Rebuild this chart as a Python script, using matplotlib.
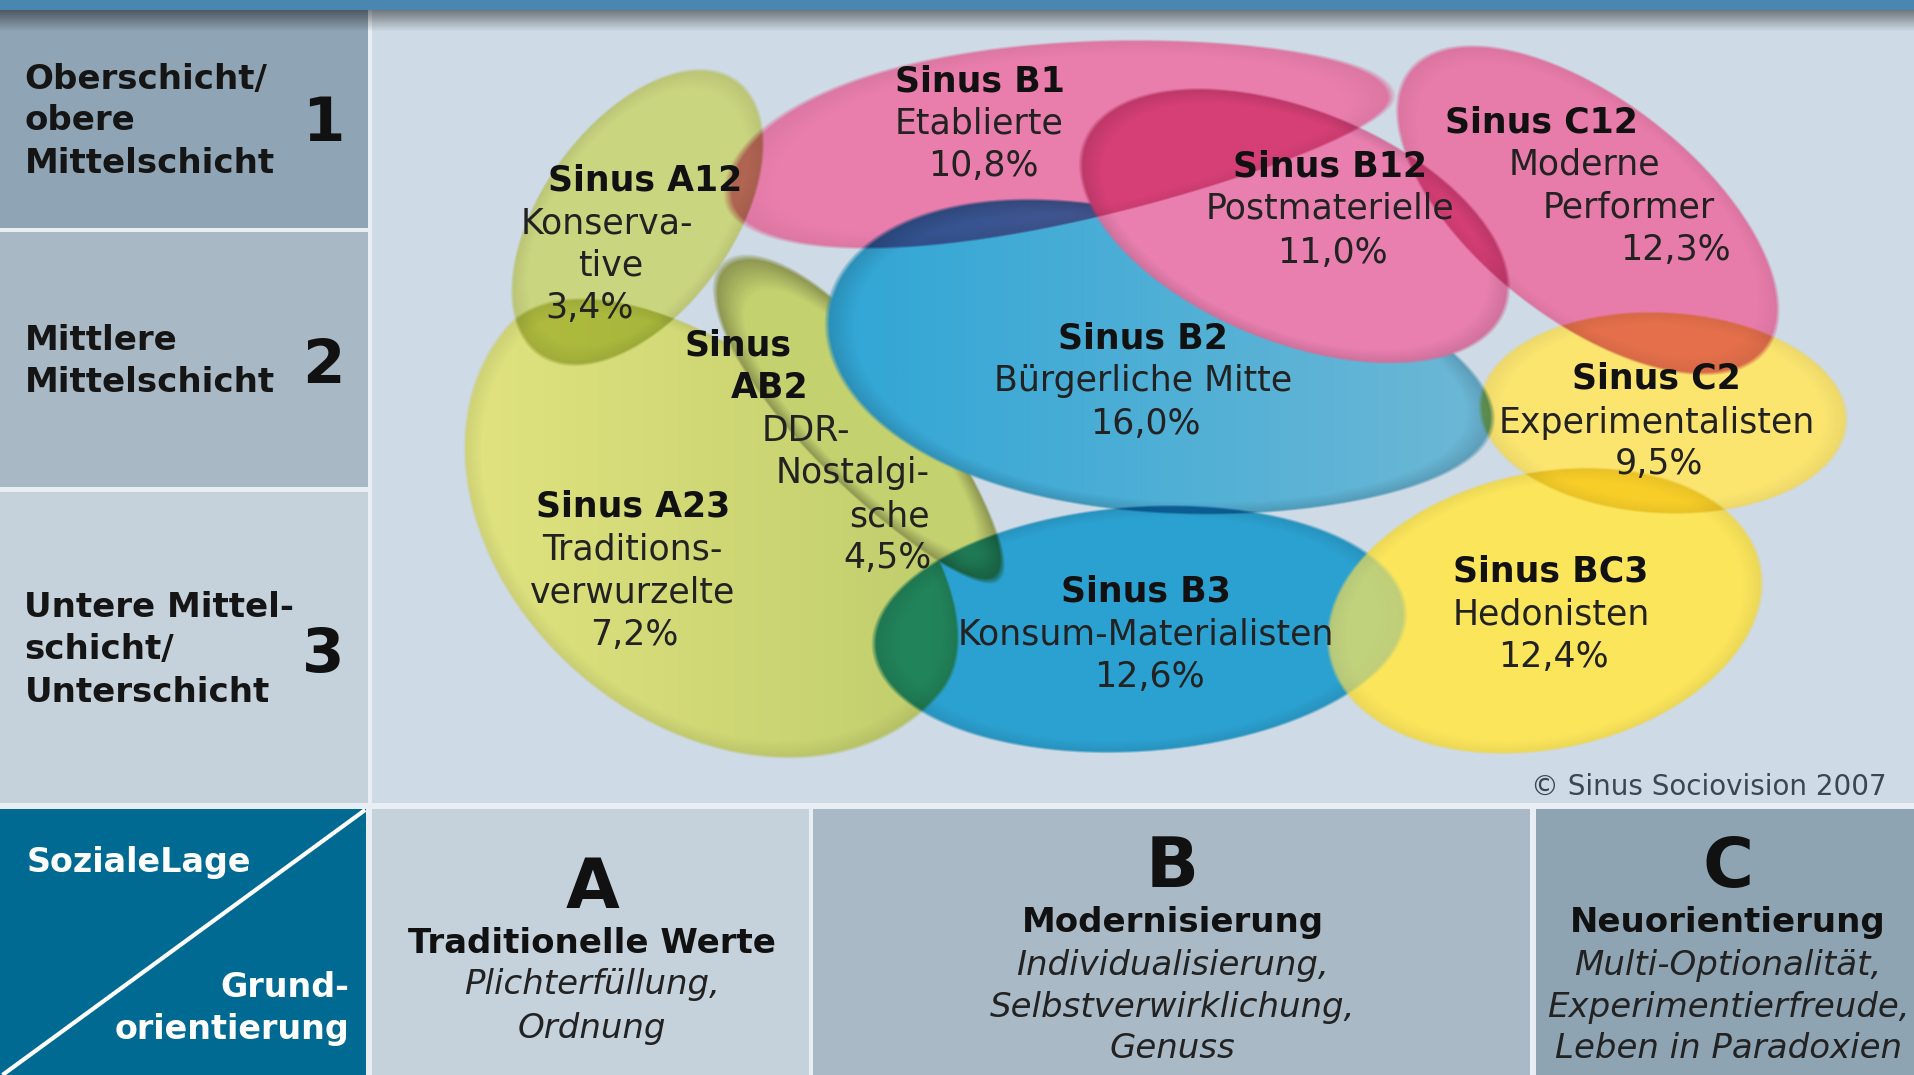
import numpy as np
import matplotlib.pyplot as plt
from matplotlib import font_manager
from matplotlib.patches import Rectangle

# layout grid of the reference (1568 x 880), mapped onto a 1915 x 1075 figure
W, H = 1568, 880

# --- data ---------------------------------------------------------------
milieu_codes = ["B1", "A12", "B12", "C12", "B2", "C2", "AB2", "A23", "B3", "BC3"]
milieu_names = ["Etablierte", "Konserva-\ntive", "Postmaterielle", "Moderne\nPerformer",
                "Bürgerliche Mitte", "Experimentalisten", "DDR-\nNostalgi-\nsche",
                "Traditions-\nverwurzelte", "Konsum-Materialisten", "Hedonisten"]
milieu_shares = [10.8, 3.4, 11.0, 12.3, 16.0, 9.5, 4.5, 7.2, 12.6, 12.4]

social_levels = ["Oberschicht/\nobere\nMittelschicht", "Mittlere\nMittelschicht",
                 "Untere Mittel-\nschicht/\nUnterschicht"]
level_numbers = ["1", "2", "3"]

value_letters = ["A", "B", "C"]
value_titles = ["Traditionelle Werte", "Modernisierung", "Neuorientierung"]
value_desc = [["Plichterfüllung,", "Ordnung"],
              ["Individualisierung,", "Selbstverwirklichung,", "Genuss"],
              ["Multi-Optionalität,", "Experimentierfreude,", "Leben in Paradoxien"]]

corner_top = "SozialeLage"
corner_bottom = ["Grund-", "orientierung"]
credit = "© Sinus Sociovision 2007"

# --- layout -------------------------------------------------------------
# blob: cx, cy, a, b (lower side), b (upper side), angle, egg, layer, mode, opacity, rim
blobs = {
    "A23": (592, 418, 232, 178, 115, 40, 0.0, 0, "mul", 1.0, 0.08),
    "A12": (522, 178, 138, 78, 78, -54, 0.0, 1, "mul", 1.0, 0.08),
    "AB2": (705, 345, 170, 48, 52, 49, -0.2, 2, "normal", 1.0, 0.3),
    "B2":  (950, 300, 276, 120, 120, 10, -0.2, 3, "normal", 1.0, 0.15),
    "B12": (1060, 185, 185, 95, 95, 22, 0.0, 4, "normal", 1.0, 0.12),
    "B3":  (933, 515, 218, 100, 100, -4, 0.0, 5, "mul", 1.0, 0.1),
    "BC3": (1265, 500, 180, 113, 113, -12, 0.0, 6, "normal", 0.72, 0.06),
    "B1":  (868, 121, 275, 62, 86, -9, -0.25, 7, "mul", 1.0, 0.06),
    "C12": (1300, 172, 185, 90, 90, 38, 0.0, 8, "mul", 1.0, 0.06),
    "C2":  (1362, 338, 150, 82, 82, 3, 0.0, 9, "mul", 1.0, 0.06),
}
blob_colors = {
    "B1": [(233, 126, 172)], "A12": [(202, 213, 128)], "B12": [(234, 128, 176)],
    "C12": [(232, 124, 170)], "B2": [(48, 166, 214), (110, 184, 214)],
    "C2": [(251, 229, 112)], "AB2": [(196, 209, 112)],
    "A23": [(226, 228, 128), (188, 203, 106)], "B3": [(44, 162, 210)],
    "BC3": [(251, 229, 92)],
}
label_pos = {
    "B1": [(802, 67), (802, 101), (805, 136)],
    "A12": [(528, 148), (497, 183), (500, 217), (483, 252)],
    "B12": [(1089, 136), (1089, 171), (1091, 207)],
    "C12": [(1262, 100), (1297, 135), (1334, 170), (1372, 205)],
    "B2": [(936, 277), (936, 312), (938, 347)],
    "C2": [(1356, 310), (1357, 346), (1358, 380)],
    "AB2": [(604, 283), (630, 318), (660, 353), (698, 387), (728, 423), (727, 457)],
    "A23": [(518, 415), (518, 450), (518, 485), (519, 520)],
    "B3": [(938, 484), (938, 519), (941, 554)],
    "BC3": [(1270, 468), (1270, 503), (1272, 538)],
}
split_title = {"AB2"}

level_line_y = [[65, 99, 134], [279, 313], [497, 532, 567]]
level_num_y = [102, 300, 537]
col_x = [485, 960, 1415]
letter_y = [727, 710, 710]
title_y = [772, 755, 755]
desc_y = [[806, 842], [790, 825, 858], [790, 825, 858]]

fams = {f.name for f in font_manager.fontManager.ttflist}
narrow = "Liberation Sans Narrow" if "Liberation Sans Narrow" in fams else "DejaVu Sans"

fig = plt.figure(figsize=(19.15, 10.75), dpi=100, facecolor="#e8eef3")
ax = fig.add_axes([0, 0, 1, 1])
ax.set_xlim(0, W)
ax.set_ylim(H, 0)
ax.axis("off")

# panels
panels = [
    (0, 8, 301, 179, "#8fa4b4"),
    (0, 190, 301, 209, "#a8b9c5"),
    (0, 403, 301, 254, "#c5d2dc"),
    (305, 8, 1263, 649, "#cedae5"),
    (0, 662, 300, 218, "#006a92"),
    (305, 662, 357, 218, "#c5d2dc"),
    (666, 662, 587, 218, "#a9bac6"),
    (1258, 662, 310, 218, "#8fa4b3"),
]
for x0, y0, w, h, c in panels:
    ax.add_patch(Rectangle((x0, y0), w, h, facecolor=c, edgecolor="none", zorder=1))

ax.add_patch(Rectangle((0, 0), W, 8, facecolor="#4a87b0", edgecolor="none", zorder=3))
shade = np.zeros((20, 2, 4))
shade[..., 3] = np.linspace(0.45, 0.0, 20)[:, None]
ax.imshow(shade, extent=(0, W, 26, 8), aspect="auto", zorder=3)

ax.plot([299, 2], [663, 880], color="white", lw=3, zorder=3, solid_capstyle="butt")

# blobs, composited like overlapping transparent inks
nx, ny = 1915, 1075
xs = (np.arange(nx) + 0.5) * W / nx
ys = (np.arange(ny) + 0.5) * H / ny
X, Y = np.meshgrid(xs, ys)
ink = np.ones((ny, nx, 3))
cov = np.zeros((ny, nx))
for code in sorted(blobs, key=lambda k: blobs[k][7]):
    cx, cy, a, bpos, bneg, ang, egg, _, mode, opac, rim = blobs[code]
    t = np.deg2rad(ang)
    dx, dy = X - cx, Y - cy
    u = dx * np.cos(t) + dy * np.sin(t)
    v = -dx * np.sin(t) + dy * np.cos(t)
    bb = np.where(v > 0, bpos, bneg) * (1 + egg * np.clip(u / a, -1, 1))
    r = np.sqrt((u / a) ** 2 + (v / bb) ** 2)
    d = (1 - r) * min(a, 0.5 * (bpos + bneg))
    m = np.clip(d / 2.0 + 0.5, 0, 1)
    ring = np.clip(1 - d / 10.0, 0, 1)
    cols = np.array(blob_colors[code], dtype=float) / 255.0
    if len(cols) > 1:
        g = np.clip((X - (cx - a)) / (2 * a), 0, 1)[..., None]
        col = cols[0] * (1 - g) + cols[1] * g
    else:
        col = np.broadcast_to(cols[0], (ny, nx, 3))
    col = col * (1 - rim * ring)[..., None]
    if mode == "mul":
        over = ink * col
    else:
        over = (1 - opac) * ink + opac * col
    new_cov = cov + m - cov * m
    safe = np.where(new_cov > 0, new_cov, 1)[..., None]
    c3, m3 = cov[..., None], m[..., None]
    ink = (c3 * (1 - m3) * ink + c3 * m3 * over + (1 - c3) * m3 * col) / safe
    ink = np.where(new_cov[..., None] > 0, ink, 1.0)
    cov = new_cov
ax.imshow(np.dstack([np.clip(ink, 0, 1), cov]), extent=(0, W, H, 0),
          aspect="auto", zorder=2)

# milieu labels
for code, name, share in zip(milieu_codes, milieu_names, milieu_shares):
    title = ["Sinus", code] if code in split_title else ["Sinus " + code]
    lines = title + name.split("\n") + [f"{share:.1f}".replace(".", ",") + "%"]
    for i, (txt, (x, y)) in enumerate(zip(lines, label_pos[code])):
        bold = i < len(title)
        ax.text(x, y, txt, ha="center", va="center", fontsize=25,
                fontweight="bold" if bold else "normal",
                color="#111111" if bold else "#222222", zorder=5)

# social level column
for text, ly, num, ny_ in zip(social_levels, level_line_y, level_numbers, level_num_y):
    for txt, y in zip(text.split("\n"), ly):
        ax.text(20, y, txt, ha="left", va="center", fontsize=24.5,
                fontweight="bold", color="#151515", zorder=5)
    ax.text(265, ny_, num, ha="center", va="center", fontsize=44,
            fontweight="bold", color="#111111", zorder=5)

# corner cell
ax.text(22, 706, corner_top, ha="left", va="center", fontsize=24,
        fontweight="bold", color="white", zorder=5)
for txt, y in zip(corner_bottom, [808, 843]):
    ax.text(286, y, txt, ha="right", va="center", fontsize=24,
            fontweight="bold", color="white", zorder=5)

# value orientation cells
for x, letter, ly, title, ty, desc, dys in zip(col_x, value_letters, letter_y,
                                              value_titles, title_y, value_desc, desc_y):
    ax.text(x, ly, letter, ha="center", va="center", fontsize=50,
            fontweight="bold", family=[narrow, "DejaVu Sans"], color="#111111", zorder=5)
    ax.text(x, ty, title, ha="center", va="center", fontsize=24.5,
            fontweight="bold", color="#111111", zorder=5)
    for txt, y in zip(desc, dys):
        ax.text(x, y, txt, ha="center", va="center", fontsize=24.5,
                style="italic", color="#222222", zorder=5)

ax.text(1545, 644, credit, ha="right", va="center", fontsize=20,
        color="#3a4650", zorder=5)

fig.savefig("out.png", dpi=100, facecolor=fig.get_facecolor())
